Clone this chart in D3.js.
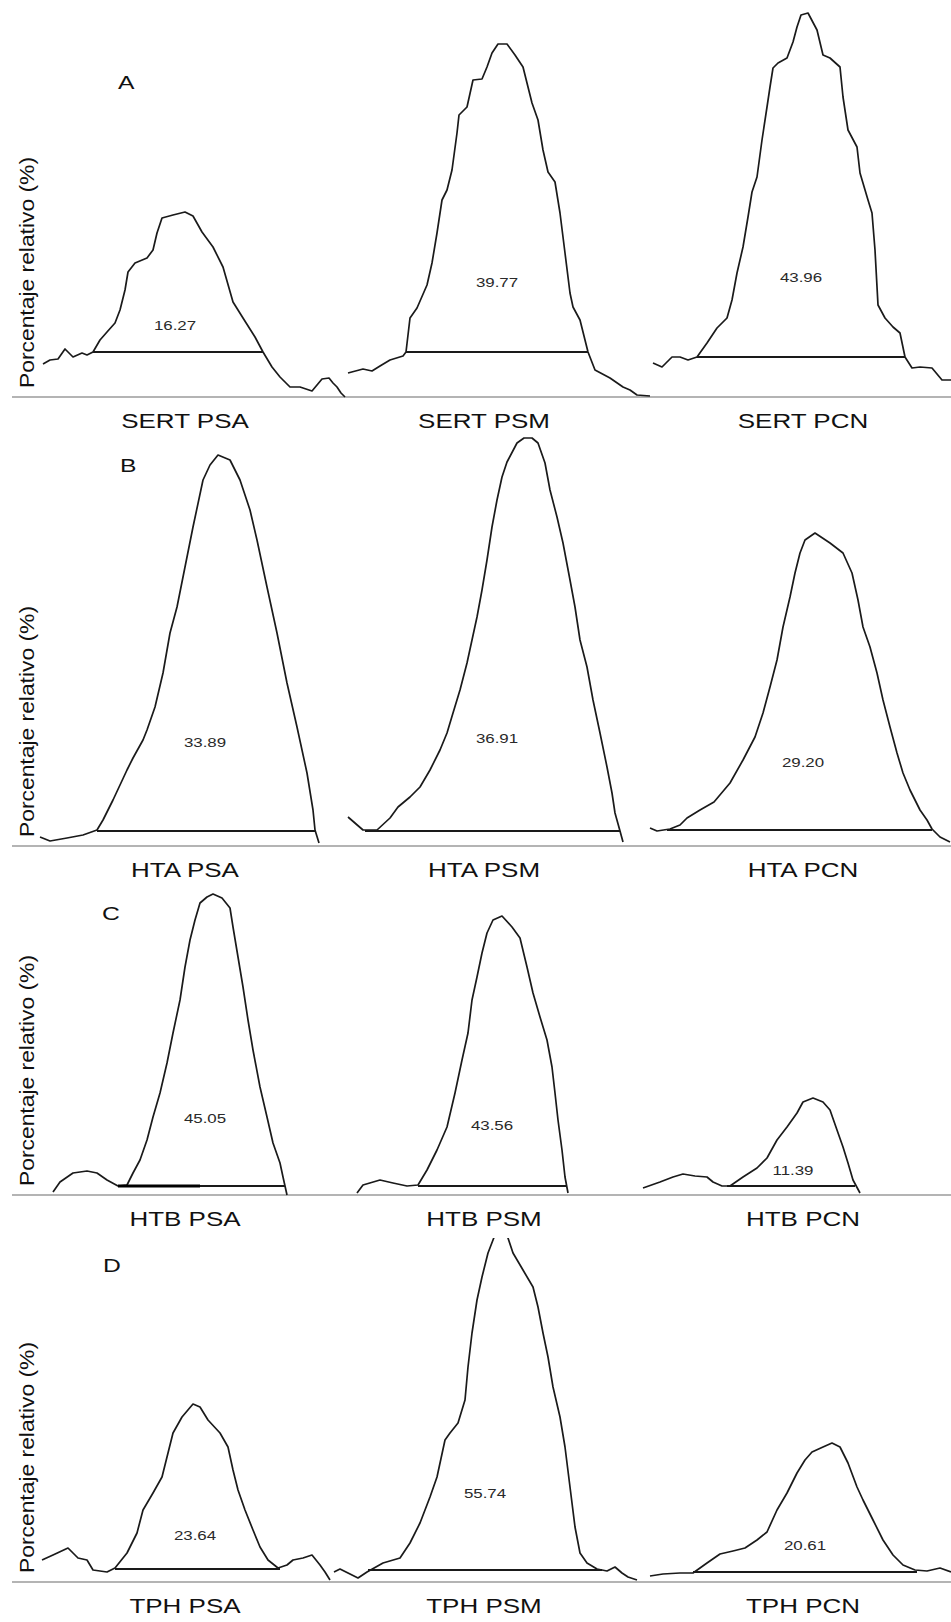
<!DOCTYPE html>
<html>
<head>
<meta charset="utf-8">
<script src="https://cdn.jsdelivr.net/npm/d3@7"></script>
<style>
  body { margin: 0; background: #fff; }
  svg { display: block; font-family: "Liberation Sans", Arial, sans-serif; }
</style>
</head>
<body>
<div id="chart"></div>
<script>
// --- Data ---
const genes = ["SERT", "HTA", "HTB", "TPH"]
const groups = ["PSA", "PSM", "PCN"]
const panelLetters = ["A", "B", "C", "D"]
const yLabel = "Porcentaje relativo (%)"

// area under peak, one row per gene, columns PSA / PSM / PCN
const areaValues = [
  [16.27, 39.77, 43.96],
  [33.89, 36.91, 29.20],
  [45.05, 43.56, 11.39],
  [23.64, 55.74, 20.61]
]

// densitometry profiles: [lane position, intensity]
const sertPSA = [[43,33],[50,37],[58,38],[65,48],[73,40],[82,44],[87,42],[93,45],[100,57],[107,65],[115,74],[120,87],[125,107],[128,125],[135,134],[147,139],[153,147],[157,164],[162,179],[173,182],[185,185],[193,181],[202,165],[213,150],[223,130],[233,95],[243,79],[255,60],[263,45],[272,30],[280,20],[290,10],[300,10],[312,6],[322,18],[329,19],[333,14],[337,10],[341,4],[345,0]]
const sertPSM = [[31,24],[46,28],[55,26],[63,31],[73,37],[86,41],[89,45],[93,79],[100,89],[110,112],[115,134],[120,164],[125,197],[130,207],[135,227],[140,264],[142,282],[150,290],[156,317],[165,318],[170,330],[175,344],[181,353],[190,353],[198,342],[206,330],[210,314],[215,294],[221,277],[226,247],[231,225],[238,215],[243,184],[248,144],[253,104],[256,90],[263,77],[271,45],[278,27],[293,19],[306,10],[313,7],[320,2],[333,1]]
const sertPCN = [[19,34],[28,30],[38,40],[46,40],[54,37],[63,40],[73,54],[83,69],[93,79],[98,97],[103,124],[109,150],[114,180],[118,205],[123,220],[128,257],[133,290],[136,310],[139,329],[144,334],[153,339],[159,355],[163,370],[167,382],[174,384],[183,367],[189,342],[196,339],[206,330],[209,300],[214,267],[223,250],[226,224],[234,197],[238,184],[241,147],[244,92],[251,79],[259,70],[266,64],[271,40],[278,29],[286,30],[298,29],[308,17],[317,17]]

const htaPSA = [[40,9],[50,5],[67,8],[83,11],[97,16],[103,26],[113,46],[127,76],[133,88],[143,106],[147,116],[155,139],[163,173],[170,213],[177,239],[185,279],[193,319],[203,366],[210,381],[218,391],[230,386],[240,366],[250,336],[257,306],[267,259],[277,213],[287,163],[297,119],[307,73],[313,36],[315,16],[319,3]]
const htaPSM = [[31,29],[46,16],[60,16],[73,28],[81,39],[93,49],[103,59],[113,76],[123,96],[130,113],[136,133],[143,156],[150,183],[155,206],[160,229],[165,256],[170,286],[175,319],[180,346],[185,369],[190,384],[200,403],[207,408],[215,408],[221,403],[228,383],[233,356],[240,329],[246,303],[253,266],[258,239],[263,206],[270,179],[276,146],[283,113],[290,79],[295,53],[298,33],[303,15],[306,4]]
const htaPCN = [[16,18],[23,15],[36,17],[46,21],[53,28],[66,36],[80,44],[96,63],[109,86],[121,109],[129,133],[136,159],[143,186],[149,219],[156,249],[161,273],[166,293],[171,306],[181,313],[196,303],[209,293],[218,273],[224,246],[229,219],[236,199],[243,173],[249,146],[256,119],[263,93],[269,73],[276,56],[286,36],[293,26],[298,17],[306,9],[316,4]]

const htbPSA = [[53,3],[60,13],[73,22],[87,24],[97,22],[107,15],[118,9],[127,10],[133,22],[140,35],[147,55],[153,78],[160,102],[167,132],[173,162],[180,195],[185,228],[190,255],[195,275],[200,292],[207,298],[213,301],[222,297],[230,287],[233,268],[238,238],[243,208],[248,175],[253,145],[260,108],[267,78],[273,52],[280,32],[283,18],[287,0]]
const htbPSM = [[40,2],[46,10],[63,15],[76,12],[90,9],[101,10],[110,25],[120,45],[130,68],[138,102],[145,135],[151,162],[155,195],[160,218],[165,242],[170,262],[176,275],[185,279],[195,268],[203,257],[210,228],[216,202],[223,178],[230,155],[235,128],[238,102],[241,75],[245,45],[248,18],[251,2]]
const htbPCN = [[9,7],[26,13],[39,18],[49,21],[61,19],[73,18],[79,13],[88,9],[96,9],[109,18],[123,27],[133,37],[143,55],[153,68],[163,82],[169,93],[179,97],[189,93],[196,85],[203,65],[209,48],[214,32],[219,15],[226,2]]

const tphPSA = [[42,22],[53,27],[68,34],[78,24],[87,22],[93,12],[107,10],[115,14],[127,29],[137,49],[143,72],[153,89],[162,105],[167,125],[173,149],[182,165],[193,178],[200,175],[208,162],[220,149],[228,135],[233,112],[238,92],[245,72],[253,52],[260,35],[268,22],[278,14],[287,17],[293,22],[303,24],[312,27],[320,17],[325,10],[330,2]]
const tphPSM = [[17,10],[23,13],[31,9],[41,4],[50,10],[66,19],[83,24],[93,39],[103,59],[113,85],[120,105],[128,142],[133,149],[141,159],[148,182],[151,215],[155,249],[160,282],[165,305],[171,329],[176,342],[183,360],[191,344],[196,329],[206,312],[216,295],[221,275],[226,249],[231,225],[236,195],[243,165],[248,135],[253,95],[258,55],[263,29],[270,19],[280,13],[290,11],[298,15],[305,9],[311,5],[320,2]]
const tphPCN = [[16,6],[29,8],[46,9],[59,9],[73,19],[86,28],[99,31],[111,34],[123,42],[133,50],[143,72],[153,89],[163,109],[171,122],[178,130],[189,135],[198,139],[206,135],[214,119],[223,95],[229,82],[239,62],[249,42],[259,27],[269,17],[281,12],[293,11],[306,14],[317,10]]

const profiles = [
  [sertPSA, sertPSM, sertPCN],
  [htaPSA, htaPSM, htaPCN],
  [htbPSA, htbPSM, htbPCN],
  [tphPSA, tphPSM, tphPCN]
]

// peak integration limits: [start, end, intensity]
const peakLimits = [
  [[93,263,45], [89,271,45], [63,271,40]],
  [[97,315,15], [48,303,15], [33,298,16]],
  [[118,285,9], [101,250,9], [93,221,9]],
  [[115,280,13], [51,285,12], [59,283,10]]
]
// darker stretch of the HTB PSA limit line
const htbPSAMark = [118, 200, 9]

// where the area value is written, in profile units
const valueLabelAt = [
  [[175,72], [180,115], [167,120]],
  [[205,104], [180,108], [169,84]],
  [[205,77], [175,70], [159,25]],
  [[195,47], [168,89], [171,37]]
]

// --- Layout ---
const width = 951
const height = 1622
const colLeft = [0, 317, 634]
const colSpan = 317
const rowBase = [397, 846, 1195, 1582]
const rowTop = [6, 436, 885, 1238]
const labelCenter = [185, 484, 803]
const letterX = [118, 120, 102, 103]
const letterY = [89, 472, 920, 1272]
const stretch = 1.3

const svg = d3.select("#chart")
  .append("svg")
    .attr("width", width)
    .attr("height", height)

const defs = svg.append("defs")

const line = (xs, ys) => d3.line()
  .x(d => xs(d[0]))
  .y(d => ys(d[1]))

genes.forEach((gene, r) => {
  const yScale = d3.scaleLinear()
                   .domain([0, 400])
                   .range([rowBase[r], rowBase[r] - 400])

  // clip so peaks running past the row top get cut off
  defs.append("clipPath")
      .attr("id", `clip-row-${r}`)
    .append("rect")
      .attr("x", 0)
      .attr("y", rowTop[r])
      .attr("width", width)
      .attr("height", rowBase[r] - rowTop[r] + 6)

  // grey baseline
  svg.append("line")
     .attr("x1", 12)
     .attr("x2", width)
     .attr("y1", rowBase[r])
     .attr("y2", rowBase[r])
     .attr("stroke", "#b4b4b4")
     .attr("stroke-width", 2)

  // y label
  svg.append("text")
     .attr("transform", `translate(34, ${rowBase[r] - 9}) rotate(-90)`)
     .attr("font-size", 21)
     .attr("fill", "#111")
     .attr("textLength", 231)
     .attr("lengthAdjust", "spacingAndGlyphs")
     .text(yLabel)

  // panel letter
  svg.append("text")
     .attr("transform", `translate(${letterX[r]}, ${letterY[r]}) scale(${stretch},1)`)
     .attr("font-size", 19)
     .attr("fill", "#111")
     .text(panelLetters[r])

  groups.forEach((group, c) => {
    const xScale = d3.scaleLinear()
                     .domain([0, colSpan])
                     .range([colLeft[c], colLeft[c] + colSpan])

    const g = svg.append("g").attr("clip-path", `url(#clip-row-${r})`)

    g.append("path")
     .datum(profiles[r][c])
     .attr("fill", "none")
     .attr("stroke", "#1a1a1a")
     .attr("stroke-width", 1.7)
     .attr("stroke-linejoin", "round")
     .attr("d", line(xScale, yScale))

    const lim = peakLimits[r][c]
    svg.append("line")
       .attr("x1", xScale(lim[0]))
       .attr("x2", xScale(lim[1]))
       .attr("y1", yScale(lim[2]))
       .attr("y2", yScale(lim[2]))
       .attr("stroke", "#1a1a1a")
       .attr("stroke-width", 1.8)

    if (r === 2 && c === 0) {
      svg.append("line")
         .attr("x1", xScale(htbPSAMark[0]))
         .attr("x2", xScale(htbPSAMark[1]))
         .attr("y1", yScale(htbPSAMark[2]))
         .attr("y2", yScale(htbPSAMark[2]))
         .attr("stroke", "#000")
         .attr("stroke-width", 3)
    }

    // area value
    const at = valueLabelAt[r][c]
    svg.append("text")
       .attr("transform", `translate(${xScale(at[0])}, ${yScale(at[1]) + 5}) scale(${stretch},1)`)
       .attr("text-anchor", "middle")
       .attr("font-size", 13)
       .attr("fill", "#2a2a2a")
       .text(d3.format(".2f")(areaValues[r][c]))

    // sample label under the baseline
    svg.append("text")
       .attr("transform", `translate(${labelCenter[c]}, ${rowBase[r] + 31}) scale(${stretch},1)`)
       .attr("text-anchor", "middle")
       .attr("font-size", 20)
       .attr("fill", "#111")
       .text(`${gene} ${group}`)
  })
})
</script>
</body>
</html>
